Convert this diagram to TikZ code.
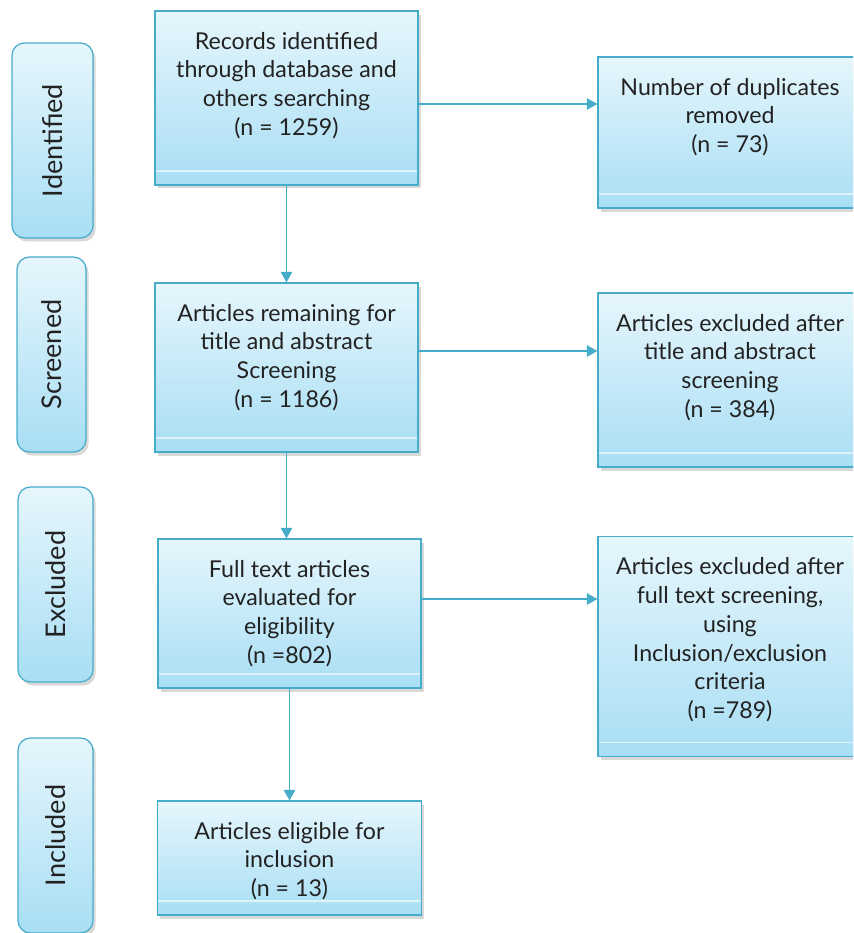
\documentclass[tikz,border=0pt]{standalone}
\usepackage{graphicx}
\usepackage{fontspec}
\setmainfont{Lato}
\usetikzlibrary{arrows.meta,shadows}
\definecolor{edgeblue}{HTML}{45ADCA}
\definecolor{topblue}{HTML}{E6F6FC}
\definecolor{botblue}{HTML}{A8DEF4}
\definecolor{txtgray}{HTML}{222222}
\newcommand{\boxtxt}[3]{\parbox[c][#1][t]{#2}{\centering\vspace{0.42cm}#3}}

\begin{document}
\begin{tikzpicture}[x=0.02cm,y=-0.02cm,
    shade/.style={draw=edgeblue,line width=0.7pt,top color=topblue,bottom color=botblue,text=txtgray,
      drop shadow={opacity=0.3,shadow xshift=1.5pt,shadow yshift=-2pt}},
    box/.style={shade,inner sep=0pt,font=\fontsize{13.2}{16.4}\selectfont,
      path picture={\draw[white,opacity=0.6,line width=0.6pt] ([yshift=0.28cm]path picture bounding box.south west)--([yshift=0.28cm]path picture bounding box.south east);}},
    stage/.style={shade,rounded corners=7pt,inner sep=0pt,font=\fontsize{15.4}{17}\selectfont},
    arr/.style={edgeblue,line width=0.9pt,-{Triangle[length=6pt,width=6.5pt]}}]
  \useasboundingbox (0,0) rectangle (853,933);
  \clip (0,0) rectangle (853,933);
  \node[stage,minimum width=1.62cm,minimum height=3.9cm] (sid) at (52.5,140.5) {\rotatebox{90}{Identified}};
  \node[stage,minimum width=1.38cm,minimum height=3.9cm] (sscr) at (51.5,354.5) {\rotatebox{90}{Screened}};
  \node[stage,minimum width=1.5cm,minimum height=3.9cm] (sexc) at (55.5,584.5) {\rotatebox{90}{Excluded}};
  \node[stage,minimum width=1.5cm,minimum height=3.9cm] (sinc) at (55.5,835.5) {\rotatebox{90}{Included}};
  \node[box] (rec) at (286.5,98) {\boxtxt{3.48cm}{5.26cm}{Records identified\\through database and\\others searching\\(n = 1259)}};
  \node[box] (scr) at (286.5,367.5) {\boxtxt{3.38cm}{5.26cm}{Articles remaining for\\title and abstract\\Screening\\(n = 1186)}};
  \node[box] (ful) at (289.5,613.5) {\boxtxt{2.98cm}{5.26cm}{Full text articles\\evaluated for\\eligibility\\(n =802)}};
  \node[box] (inc) at (289.5,858) {\boxtxt{2.28cm}{5.28cm}{Articles eligible for\\inclusion\\(n = 13)}};
  \node[box] (dup) at (730,132.5) {\boxtxt{3.02cm}{5.28cm}{Number of duplicates\\removed\\(n = 73)}};
  \node[box] (exa) at (730,380) {\boxtxt{3.48cm}{5.28cm}{Articles excluded after\\title and abstract\\screening\\(n = 384)}};
  \node[box] (exb) at (730,646.5) {\boxtxt{4.4cm}{5.28cm}{Articles excluded after\\full text screening,\\using\\Inclusion/exclusion\\criteria\\(n =789)}};
  \draw[arr] (rec) -- (scr);
  \draw[arr] (scr.south) -- (scr.south |- ful.north);
  \draw[arr] (ful) -- (inc);
  \draw[arr] ([yshift=-0.12cm]rec.east) -- ([yshift=-0.12cm]rec.east -| dup.west);
  \draw[arr] ([yshift=0.33cm]scr.east) -- ([yshift=0.33cm]scr.east -| exa.west);
  \draw[arr] ([yshift=0.29cm]ful.east) -- ([yshift=0.29cm]ful.east -| exb.west);
\end{tikzpicture}
\end{document}
